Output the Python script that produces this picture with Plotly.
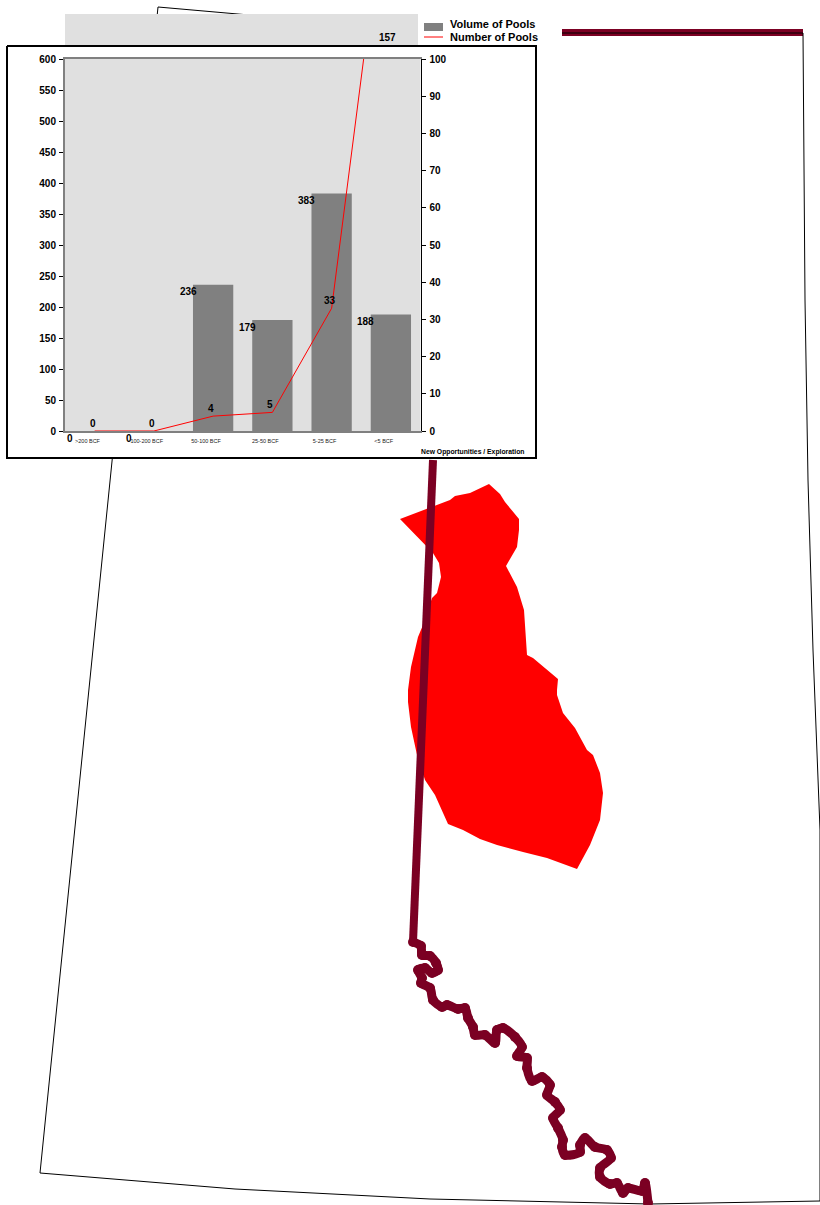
import plotly.graph_objects as go

# ---- chart data ----
categories = [">200 BCF", "100-200 BCF", "50-100 BCF", "25-50 BCF", "5-25 BCF", "<5 BCF"]
volume_of_pools = [0, 0, 236, 179, 383, 188]
number_of_pools = [0, 0, 4, 5, 33, 157]
left_ticks = list(range(0, 601, 50))
right_ticks = list(range(0, 101, 10))
boundary_ticks = [2.5, 4.5, 5.5]

# ---- background map, page pixels ----
outline_x = [158, 241, 420, 562, 803, 805, 808, 813, 820, 820, 650, 430, 235, 40, 158]
outline_y = [7, 14.5, 30, 33, 33, 300, 480, 650, 830, 1201, 1204, 1199, 1189, 1173, 7]
border_river_x = [562, 640, 760, 803]
border_river_y = [32.5, 33, 33, 32.5]
red_x = [400, 418, 450, 455, 470, 489, 500, 505, 519, 519, 517, 506, 517, 524, 527, 533, 558, 557, 557,
         563, 575, 587, 593, 600, 603, 600, 590, 577, 547, 523, 497, 480, 463, 448, 435, 425, 417, 411,
         408, 408, 411, 418, 423, 432, 437, 441, 439, 433, 400]
red_y = [519, 512, 500, 496, 493, 484, 494, 502, 519, 530, 547, 566, 587, 610, 655, 658, 679, 690, 695,
         713, 728, 750, 755, 773, 793, 820, 845, 869, 858, 852, 845, 839, 830, 824, 795, 780, 755, 727,
         702, 690, 667, 637, 625, 598, 593, 577, 563, 553, 519]
straight_river_x = [433, 423, 415, 413]
straight_river_y = [460, 700, 907, 942]
river_x = [413, 421, 422, 430, 436, 438, 432, 425, 418, 422, 421, 430, 433, 442, 447, 458,
           465, 468, 473, 475, 485, 495, 497, 503, 515, 522, 517, 527, 527, 532, 542, 550, 547, 555, 560,
           553, 558, 563, 562, 565, 580, 580, 585, 595, 607, 611, 600, 600, 610, 617, 623, 628, 642, 645, 648]
river_y = [942, 946, 955, 956, 963, 970, 973, 968, 970, 978, 983, 988, 1000, 1007, 1005, 1009,
           1008, 1018, 1027, 1035, 1035, 1043, 1030, 1028, 1037, 1047, 1056, 1058, 1068, 1081, 1077, 1085, 1095, 1102, 1110,
           1118, 1128, 1140, 1147, 1155, 1152, 1145, 1138, 1147, 1150, 1158, 1168, 1177, 1184, 1183, 1193, 1188, 1191, 1183, 1203]

MAROON = "#7B0023"
GRAY = "#E0E0E0"
FONT = "Liberation Sans"
fig = go.Figure()


def rect(x0, y0, x1, y1, fill, line=None, lw=0):
    fig.add_trace(go.Scatter(x=[x0, x1, x1, x0, x0], y=[y0, y0, y1, y1, y0], mode="lines", fill="toself",
                             fillcolor=fill, line=dict(color=line or fill, width=lw), showlegend=False,
                             hoverinfo="skip", xaxis="x", yaxis="y"))


fig.add_trace(go.Scatter(x=border_river_x, y=border_river_y, mode="lines", line=dict(color=MAROON, width=7),
                         showlegend=False, hoverinfo="skip"))
fig.add_trace(go.Scatter(x=outline_x, y=outline_y, mode="lines", line=dict(color="black", width=1),
                         showlegend=False, hoverinfo="skip"))
fig.add_trace(go.Scatter(x=red_x, y=red_y, mode="lines", fill="toself", fillcolor="#FF0000",
                         line=dict(color="#FF0000", width=0), showlegend=False, hoverinfo="skip"))
fig.add_trace(go.Scatter(x=straight_river_x, y=straight_river_y, mode="lines", line=dict(color=MAROON, width=8),
                         showlegend=False, hoverinfo="skip"))
fig.add_trace(go.Scatter(x=river_x, y=river_y, mode="lines+markers",
                         line=dict(color=MAROON, width=9, shape="spline", smoothing=0.8),
                         marker=dict(color=MAROON, size=10), showlegend=False, hoverinfo="skip"))
rect(418, 8, 562, 46, "white")
rect(65, 14, 418, 46, GRAY)
rect(7, 46, 536, 458, "white", "black", 2)
rect(65, 59, 420.5, 431, GRAY)

# legend keys
rect(424, 23, 443, 31, "#808080")
fig.add_trace(go.Scatter(x=[424, 443], y=[37, 37], mode="lines", line=dict(color="#FF0000", width=1),
                         showlegend=False, hoverinfo="skip"))

# ---- chart ----
xs = list(range(len(categories)))
fig.add_trace(go.Bar(x=xs, y=volume_of_pools, name="Volume of Pools", marker=dict(color="#808080", line=dict(width=0)),
                     width=0.68, xaxis="x2", yaxis="y2", showlegend=False))
fig.add_trace(go.Scatter(x=xs, y=number_of_pools, name="Number of Pools", mode="lines",
                         line=dict(color="#FF0000", width=1), xaxis="x2", yaxis="y3", showlegend=False))

tickfont = dict(family=FONT, size=10, color="black", weight=700)
xdom = [65 / 820, 420.5 / 820]
ydom = [(1205 - 431) / 1205, (1205 - 59) / 1205]
fig.update_layout(
    width=820, height=1205, margin=dict(l=0, r=0, t=0, b=0, autoexpand=False), paper_bgcolor="white",
    plot_bgcolor="rgba(0,0,0,0)", hovermode=False, showlegend=False,
    xaxis=dict(domain=[0, 1], range=[0, 820], visible=False, fixedrange=True),
    yaxis=dict(domain=[0, 1], range=[1205, 0], visible=False, fixedrange=True),
    xaxis2=dict(domain=xdom, anchor="y2", range=[-0.5, 5.5], showgrid=False, zeroline=False, showline=True,
                linecolor="#808080", linewidth=2, mirror=True, ticks="", tickmode="array",
                tickvals=[x - 0.12 for x in xs], ticktext=categories, ticklabelstandoff=3,
                tickfont=dict(family=FONT, size=5.5, color="#222222")),
    xaxis3=dict(overlaying="x2", anchor="y2", range=[-0.5, 5.5], showgrid=False, zeroline=False, showticklabels=False,
                ticks="outside", ticklen=3, tickcolor="black", tickmode="array", tickvals=boundary_ticks),
    xaxis4=dict(overlaying="x2", anchor="y2", range=[-0.5, 5.5], showgrid=False, zeroline=False, showticklabels=False,
                ticks="inside", ticklen=3, tickcolor="black", tickmode="array", tickvals=boundary_ticks),
    yaxis2=dict(domain=ydom, anchor="x2", range=[0, 600], showgrid=False, zeroline=False, showline=True,
                linecolor="#808080", linewidth=2, ticks="outside", ticklen=4, tickcolor="black",
                tickmode="array", tickvals=left_ticks, tickfont=tickfont, ticklabelstandoff=1),
    yaxis3=dict(overlaying="y2", side="right", anchor="x2", range=[0, 100], showgrid=False, zeroline=False, showline=True,
                linecolor="black", linewidth=1, ticks="outside", ticklen=4, tickcolor="black",
                tickmode="array", tickvals=right_ticks, tickfont=tickfont, ticklabelstandoff=2),
    yaxis4=dict(overlaying="y2", anchor="x2", range=[0, 600], showgrid=False, zeroline=False, showticklabels=False,
                ticks="inside", ticklen=3, tickcolor="black", tickmode="array", tickvals=left_ticks),
    yaxis5=dict(overlaying="y2", side="right", anchor="x2", range=[0, 100], showgrid=False, zeroline=False,
                showticklabels=False, ticks="inside", ticklen=3, tickcolor="black", tickmode="array", tickvals=right_ticks),
)

ann_font = dict(family=FONT, size=10, color="black", weight=700)
annotations = []
for i, v in zip(xs, volume_of_pools):
    annotations.append(dict(x=i, y=v, xref="x2", yref="y2", text=str(v), showarrow=False, xshift=-25, yshift=-7, font=ann_font))
for i, v in zip(xs, number_of_pools):
    clipped = v > 100
    annotations.append(dict(x=i, y=min(v, 100), xref="x2", yref="y3", text=str(v), showarrow=False,
                            xshift=-3 if clipped else -2, yshift=22 if clipped else 8, font=ann_font))
annotations.append(dict(x=526 / 820, y=1 - 452 / 1205, xref="paper", yref="paper", xanchor="right", yanchor="middle",
                        text="New Opportunities / Exploration", showarrow=False,
                        font=dict(family=FONT, size=6.8, color="black", weight=700)))
for name, y_px in (("Volume of Pools", 23.5), ("Number of Pools", 37)):
    annotations.append(dict(x=448 / 820, y=1 - y_px / 1205, xref="paper", yref="paper", xanchor="left", yanchor="middle",
                            text=name, showarrow=False, font=dict(family=FONT, size=11, color="black", weight=700)))
fig.update_layout(annotations=annotations)

fig.write_html("out.html", post_script="document.body.style.margin='0';", config={"displayModeBar": False})
